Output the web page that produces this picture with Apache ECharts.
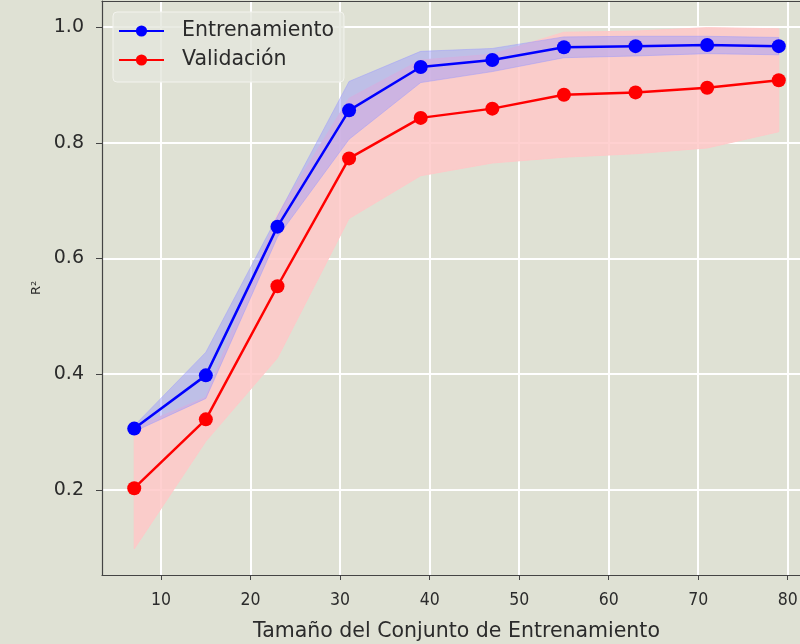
<!DOCTYPE html>
<html>
<head>
<meta charset="utf-8">
<script src="https://cdn.jsdelivr.net/npm/echarts@6/dist/echarts.min.js"></script>
<style>
  html, body { margin: 0; padding: 0; background: #dfe1d4; }
  #chart { width: 800px; height: 644px; }
</style>
</head>
<body>
<div id="chart"></div>
<script>
// Learning curve: training-set size vs R² (mean ± std over CV folds)
const trainSizes = [7, 15, 23, 31, 39, 47, 55, 63, 71, 79];
const trainMean  = [0.306, 0.398, 0.655, 0.856, 0.931, 0.943, 0.965, 0.967, 0.969, 0.967];
const trainStd   = [0.005, 0.040, 0.018, 0.050, 0.027, 0.020, 0.018, 0.017, 0.015, 0.015];
const valMean    = [0.203, 0.322, 0.552, 0.773, 0.843, 0.859, 0.883, 0.887, 0.895, 0.908];
const valStd     = [0.105, 0.038, 0.124, 0.104, 0.100, 0.094, 0.108, 0.106, 0.104, 0.089];

const xTicks = [10, 20, 30, 40, 50, 60, 70, 80];
const yTicks = [0.2, 0.4, 0.6, 0.8, 1.0];

const FONT = 'DejaVu Sans';
const FONT_COND = 'DejaVu Sans Condensed';
const AXIS_COLOR = '#444';
const TEXT_COLOR = '#2b2b2b';

function pairs(xs, ys) { return xs.map((x, i) => [x, ys[i]]); }

// Shaded ±1 std band drawn as one polygon through the axis scales
function band(name, mean, std, fill) {
  return {
    type: 'custom',
    name: name,
    silent: true,
    z: 1,
    clip: true,
    data: [[trainSizes[0], mean[0]]],
    renderItem(params, api) {
      const upper = trainSizes.map((x, i) => api.coord([x, mean[i] + std[i]]));
      const lower = trainSizes.map((x, i) => api.coord([x, mean[i] - std[i]])).reverse();
      return {
        type: 'polygon',
        shape: { points: upper.concat(lower) },
        style: { fill: fill, stroke: fill, lineWidth: 1 }
      };
    }
  };
}

function curve(name, mean, color) {
  return {
    type: 'line',
    name: name,
    data: pairs(trainSizes, mean),
    z: 3,
    symbol: 'circle',
    symbolSize: 14,
    showSymbol: true,
    lineStyle: { color: color, width: 2.5 },
    itemStyle: { color: color },
    emphasis: { disabled: true },
    animation: false
  };
}

const chart = echarts.init(document.getElementById('chart'), null, { renderer: 'canvas' });

chart.setOption({
  backgroundColor: '#dfe1d4',
  animation: false,
  grid: { left: 102, top: 1, width: 709, bottom: 69, containLabel: false, outerBoundsMode: 'none' },
  legend: {
    data: ['Entrenamiento', 'Validación'],
    orient: 'vertical',
    left: 113,
    top: 12,
    itemWidth: 45,
    itemHeight: 14,
    itemGap: 7,
    padding: [8, 10, 11, 5],
    backgroundColor: 'rgba(228,230,220,0.8)',
    borderColor: '#f3f3ee',
    borderWidth: 1,
    borderRadius: 4,
    textStyle: { fontFamily: FONT, fontSize: 20.5, lineHeight: 22, color: TEXT_COLOR, padding: [0, 0, 0, 13] }
  },
  xAxis: [{
    type: 'value',
    min: 3.4,
    max: 82.6,
    name: 'Tamaño del Conjunto de Entrenamiento',
    nameLocation: 'middle',
    nameGap: 46,
    nameTextStyle: { fontFamily: FONT, fontSize: 20.5, color: TEXT_COLOR },
    axisLine: { show: true, lineStyle: { color: AXIS_COLOR, width: 1.2 } },
    axisTick: { show: true, length: 5, customValues: xTicks, lineStyle: { color: AXIS_COLOR } },
    axisLabel: {
      fontFamily: FONT_COND, fontSize: 17.5, color: TEXT_COLOR, margin: 16,
      customValues: xTicks,
      formatter: v => String(v)
    },
    splitLine: { show: true, lineStyle: { color: '#ffffff', width: 2 } }
  }, {
    type: 'value',
    position: 'top',
    min: 3.4,
    max: 82.6,
    axisLine: { show: true, lineStyle: { color: AXIS_COLOR, width: 1.2 } },
    axisTick: { show: false },
    axisLabel: { show: false },
    splitLine: { show: false }
  }],
  yAxis: {
    type: 'value',
    min: 0.053,
    max: 1.045,
    name: 'R²',
    nameLocation: 'middle',
    nameGap: 59,
    nameTextStyle: { fontFamily: FONT, fontSize: 13, color: TEXT_COLOR },
    axisLine: { show: true, lineStyle: { color: AXIS_COLOR, width: 1.2 } },
    axisTick: { show: true, length: 6, customValues: yTicks, lineStyle: { color: AXIS_COLOR } },
    axisLabel: {
      fontFamily: FONT, fontSize: 19, color: TEXT_COLOR, margin: 18,
      customValues: yTicks,
      formatter: v => Number(v).toFixed(1)
    },
    splitLine: { show: true, lineStyle: { color: '#ffffff', width: 2 } }
  },
  series: [
    band('Validación ± std', valMean, valStd, 'rgba(255,200,200,0.85)'),
    band('Entrenamiento ± std', trainMean, trainStd, 'rgba(150,150,255,0.45)'),
    curve('Entrenamiento', trainMean, '#0000ff'),
    curve('Validación', valMean, '#ff0000')
  ]
});
</script>
</body>
</html>
